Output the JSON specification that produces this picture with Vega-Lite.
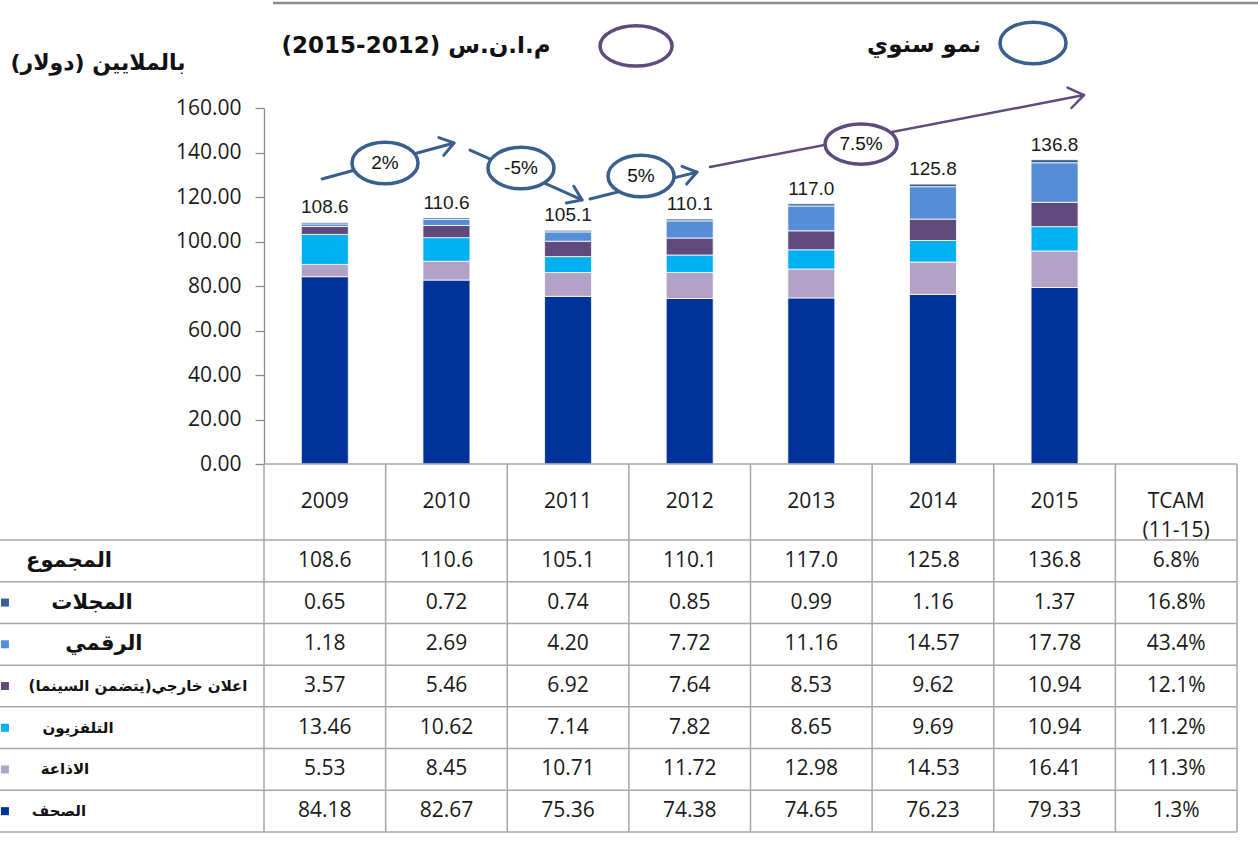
{
  "$schema": "https://vega.github.io/schema/vega-lite/v6.json",
  "width": 973,
  "height": 356,
  "autosize": {"type": "none"},
  "padding": {"left": 264, "top": 108, "right": 21, "bottom": 378},
  "background": "white",
  "config": {"view": {"stroke": null}, "text": {"font": "Open Sans"}},
  "datasets": {
    "bars": [
      {"year": 2009, "s": "الصحف", "k": 1, "v": 84.18},
      {"year": 2010, "s": "الصحف", "k": 1, "v": 82.67},
      {"year": 2011, "s": "الصحف", "k": 1, "v": 75.36},
      {"year": 2012, "s": "الصحف", "k": 1, "v": 74.38},
      {"year": 2013, "s": "الصحف", "k": 1, "v": 74.65},
      {"year": 2014, "s": "الصحف", "k": 1, "v": 76.23},
      {"year": 2015, "s": "الصحف", "k": 1, "v": 79.33},
      {"year": 2009, "s": "الاذاعة", "k": 2, "v": 5.53},
      {"year": 2010, "s": "الاذاعة", "k": 2, "v": 8.45},
      {"year": 2011, "s": "الاذاعة", "k": 2, "v": 10.71},
      {"year": 2012, "s": "الاذاعة", "k": 2, "v": 11.72},
      {"year": 2013, "s": "الاذاعة", "k": 2, "v": 12.98},
      {"year": 2014, "s": "الاذاعة", "k": 2, "v": 14.53},
      {"year": 2015, "s": "الاذاعة", "k": 2, "v": 16.41},
      {"year": 2009, "s": "التلفزيون", "k": 3, "v": 13.46},
      {"year": 2010, "s": "التلفزيون", "k": 3, "v": 10.62},
      {"year": 2011, "s": "التلفزيون", "k": 3, "v": 7.14},
      {"year": 2012, "s": "التلفزيون", "k": 3, "v": 7.82},
      {"year": 2013, "s": "التلفزيون", "k": 3, "v": 8.65},
      {"year": 2014, "s": "التلفزيون", "k": 3, "v": 9.69},
      {"year": 2015, "s": "التلفزيون", "k": 3, "v": 10.94},
      {"year": 2009, "s": "اعلان خارجي(يتضمن السينما)", "k": 4, "v": 3.57},
      {"year": 2010, "s": "اعلان خارجي(يتضمن السينما)", "k": 4, "v": 5.46},
      {"year": 2011, "s": "اعلان خارجي(يتضمن السينما)", "k": 4, "v": 6.92},
      {"year": 2012, "s": "اعلان خارجي(يتضمن السينما)", "k": 4, "v": 7.64},
      {"year": 2013, "s": "اعلان خارجي(يتضمن السينما)", "k": 4, "v": 8.53},
      {"year": 2014, "s": "اعلان خارجي(يتضمن السينما)", "k": 4, "v": 9.62},
      {"year": 2015, "s": "اعلان خارجي(يتضمن السينما)", "k": 4, "v": 10.94},
      {"year": 2009, "s": "الرقمي", "k": 5, "v": 1.18},
      {"year": 2010, "s": "الرقمي", "k": 5, "v": 2.69},
      {"year": 2011, "s": "الرقمي", "k": 5, "v": 4.20},
      {"year": 2012, "s": "الرقمي", "k": 5, "v": 7.72},
      {"year": 2013, "s": "الرقمي", "k": 5, "v": 11.16},
      {"year": 2014, "s": "الرقمي", "k": 5, "v": 14.57},
      {"year": 2015, "s": "الرقمي", "k": 5, "v": 17.78},
      {"year": 2009, "s": "المجلات", "k": 6, "v": 0.65},
      {"year": 2010, "s": "المجلات", "k": 6, "v": 0.72},
      {"year": 2011, "s": "المجلات", "k": 6, "v": 0.74},
      {"year": 2012, "s": "المجلات", "k": 6, "v": 0.85},
      {"year": 2013, "s": "المجلات", "k": 6, "v": 0.99},
      {"year": 2014, "s": "المجلات", "k": 6, "v": 1.16},
      {"year": 2015, "s": "المجلات", "k": 6, "v": 1.37}
    ],
    "rows": [
      {"row": "المجموع", "label": "المجموع", "tcam": 0.068},
      {"row": "المجلات", "label": "المجلات", "tcam": 0.168},
      {"row": "الرقمي", "label": "الرقمي", "tcam": 0.434},
      {"row": "اعلان خارجي(يتضمن السينما)", "label": "\u202bاعلان خارجي(يتضمن السينما)\u202c", "tcam": 0.121},
      {"row": "التلفزيون", "label": "التلفزيون", "tcam": 0.112},
      {"row": "الاذاعة", "label": "الاذاعة", "tcam": 0.113},
      {"row": "الصحف", "label": "الصحف", "tcam": 0.013}
    ],
    "edges": [
      {"x": 2008.5}, {"x": 2009.5}, {"x": 2010.5}, {"x": 2011.5}, {"x": 2012.5},
      {"x": 2013.5}, {"x": 2014.5}, {"x": 2015.5}, {"x": 2016.5}
    ],
    "arrows": [
      {"id": "a1", "kind": "annual", "seq": 1, "x": 2008.977, "y": 128.1},
      {"id": "a1", "kind": "annual", "seq": 2, "x": 2010.062, "y": 144.3},
      {"id": "h1", "kind": "annual", "seq": 1, "x": 2009.938, "y": 146.7},
      {"id": "h1", "kind": "annual", "seq": 2, "x": 2010.062, "y": 144.3},
      {"id": "h1", "kind": "annual", "seq": 3, "x": 2009.978, "y": 138.7},
      {"id": "a2", "kind": "annual", "seq": 1, "x": 2010.194, "y": 141.1},
      {"id": "a2", "kind": "annual", "seq": 2, "x": 2011.115, "y": 118.7},
      {"id": "h2", "kind": "annual", "seq": 1, "x": 2011.047, "y": 124.8},
      {"id": "h2", "kind": "annual", "seq": 2, "x": 2011.115, "y": 118.7},
      {"id": "h2", "kind": "annual", "seq": 3, "x": 2010.986, "y": 117.3},
      {"id": "a3", "kind": "annual", "seq": 1, "x": 2011.180, "y": 119.1},
      {"id": "a3", "kind": "annual", "seq": 2, "x": 2012.060, "y": 131.2},
      {"id": "h3", "kind": "annual", "seq": 1, "x": 2011.937, "y": 133.8},
      {"id": "h3", "kind": "annual", "seq": 2, "x": 2012.060, "y": 131.2},
      {"id": "h3", "kind": "annual", "seq": 3, "x": 2011.975, "y": 125.8},
      {"id": "a4", "kind": "cagr", "seq": 1, "x": 2012.167, "y": 133.5},
      {"id": "a4", "kind": "cagr", "seq": 2, "x": 2015.242, "y": 165.8},
      {"id": "h4", "kind": "cagr", "seq": 1, "x": 2015.107, "y": 169.2},
      {"id": "h4", "kind": "cagr", "seq": 2, "x": 2015.242, "y": 165.8},
      {"id": "h4", "kind": "cagr", "seq": 3, "x": 2015.139, "y": 160.0}
    ],
    "notes": [
      {"t": "2%", "kind": "annual", "x": 2009.495, "y": 135.3},
      {"t": "-5%", "kind": "annual", "x": 2010.613, "y": 133.0},
      {"t": "5%", "kind": "annual", "x": 2011.600, "y": 129.4},
      {"t": "7.5%", "kind": "cagr", "x": 2013.409, "y": 143.8},
      {"t": "", "kind": "annual", "x": 2014.823, "y": 189.2},
      {"t": "", "kind": "cagr", "x": 2011.559, "y": 187.9}
    ]
  },
  "layer": [
    {
      "data": {"name": "bars"},
      "mark": {"type": "bar", "width": 47, "stroke": "white", "strokeWidth": 0.8},
      "encoding": {
        "x": {"field": "year", "type": "quantitative", "axis": null, "scale": {"domain": [2008.5, 2016.5], "nice": false, "zero": false, "padding": 0}},
        "y": {
          "field": "v", "type": "quantitative", "stack": "zero",
          "scale": {"domain": [0, 160], "nice": false, "zero": false},
          "axis": {
            "orient": "left",
            "values": [0, 20, 40, 60, 80, 100, 120, 140, 160], "format": ".2f", "title": null, "grid": false,
            "tickSize": 9, "labelPadding": 14, "labelFont": "Open Sans", "labelFontSize": 21,
            "labelColor": "#1a1a1a", "domainColor": "#8c8c8c", "tickColor": "#8c8c8c",
            "domainWidth": 1.3, "tickWidth": 1.3, "labelFlush": false, "labelOverlap": false
          }
        },
        "color": {
          "field": "s", "type": "nominal", "legend": null,
          "scale": {
            "domain": ["الصحف", "الاذاعة", "التلفزيون", "اعلان خارجي(يتضمن السينما)", "الرقمي", "المجلات"],
            "range": ["#003399", "#b3a2c7", "#00b0f0", "#604a7b", "#558ed5", "#376092"]
          }
        },
        "order": {"field": "k", "type": "quantitative"}
      }
    },
    {
      "data": {"name": "edges"},
      "mark": {"type": "rule", "color": "#a6a6a6", "strokeWidth": 1.5},
      "encoding": {
        "x": {"field": "x", "type": "quantitative", "axis": null},
        "y": {"datum": 0, "type": "quantitative", "axis": null, "scale": {"domain": [0, 160], "nice": false, "zero": false}},
        "y2": {"datum": -165.4}
      }
    },
    {
      "data": {"values": [{}]},
      "mark": {"type": "rule", "color": "#a6a6a6", "strokeWidth": 1.5},
      "encoding": {
        "x": {"datum": 2008.5, "type": "quantitative", "axis": null},
        "x2": {"datum": 2016.5},
        "y": {"datum": 0, "type": "quantitative", "axis": null, "scale": {"domain": [0, 160], "nice": false, "zero": false}}
      }
    },
    {
      "data": {"name": "bars"},
      "transform": [{"aggregate": [{"op": "sum", "field": "v", "as": "total"}], "groupby": ["year"]}],
      "mark": {"type": "text", "font": "Liberation Sans", "fontSize": 19, "color": "#1a1a1a", "baseline": "bottom", "dy": -5},
      "encoding": {
        "x": {"field": "year", "type": "quantitative", "axis": null},
        "y": {"field": "total", "type": "quantitative", "axis": null, "scale": {"domain": [0, 160], "nice": false, "zero": false}},
        "text": {"field": "total", "type": "quantitative", "format": ".1f"}
      }
    },
    {
      "data": {"name": "bars"},
      "transform": [{"aggregate": [{"op": "count", "as": "n"}], "groupby": ["year"]}],
      "mark": {"type": "text", "font": "Open Sans", "fontSize": 21, "color": "#1a1a1a"},
      "encoding": {
        "x": {"field": "year", "type": "quantitative", "axis": null},
        "y": {"datum": -17.1, "type": "quantitative", "axis": null, "scale": {"domain": [0, 160], "nice": false, "zero": false}},
        "text": {"field": "year", "type": "nominal"}
      }
    },
    {
      "data": {"values": [{"t": "TCAM\n(11-15)"}]},
      "mark": {"type": "text", "font": "Open Sans", "fontSize": 21, "color": "#1a1a1a", "lineBreak": "\n", "lineHeight": 29},
      "encoding": {
        "x": {"datum": 2016, "type": "quantitative", "axis": null},
        "y": {"datum": -17.1, "type": "quantitative", "axis": null, "scale": {"domain": [0, 160], "nice": false, "zero": false}},
        "text": {"field": "t", "type": "nominal"}
      }
    },
    {
      "data": {"values": [{}]},
      "mark": {"type": "rule", "color": "#8c8c8c", "strokeWidth": 2.5},
      "encoding": {
        "x": {"datum": 2008.574, "type": "quantitative", "axis": null},
        "x2": {"datum": 2016.673},
        "y": {"datum": 207.2, "type": "quantitative", "axis": null, "scale": {"domain": [0, 160], "nice": false, "zero": false}}
      }
    },
    {
      "data": {"values": [{"t": "\u202bبالملايين (دولار)\u202c"}]},
      "mark": {"type": "text", "font": "DejaVu Sans", "fontWeight": "bold", "fontSize": 22, "color": "#111111"},
      "encoding": {
        "x": {"datum": 2007.135, "type": "quantitative", "axis": null},
        "y": {"datum": 180.2, "type": "quantitative", "axis": null, "scale": {"domain": [0, 160], "nice": false, "zero": false}},
        "text": {"field": "t", "type": "nominal"}
      }
    },
    {
      "data": {"values": [{"t": "\u202bم.ا.ن.س (2012-2015)\u202c"}]},
      "mark": {"type": "text", "font": "DejaVu Sans", "fontWeight": "bold", "fontSize": 23, "color": "#111111"},
      "encoding": {
        "x": {"datum": 2009.75, "type": "quantitative", "axis": null},
        "y": {"datum": 187.9, "type": "quantitative", "axis": null, "scale": {"domain": [0, 160], "nice": false, "zero": false}},
        "text": {"field": "t", "type": "nominal"}
      }
    },
    {
      "data": {"values": [{"t": "نمو سنوي"}]},
      "mark": {"type": "text", "font": "DejaVu Sans", "fontWeight": "bold", "fontSize": 23, "color": "#111111"},
      "encoding": {
        "x": {"datum": 2013.927, "type": "quantitative", "axis": null},
        "y": {"datum": 188.3, "type": "quantitative", "axis": null, "scale": {"domain": [0, 160], "nice": false, "zero": false}},
        "text": {"field": "t", "type": "nominal"}
      }
    },
    {
      "data": {"name": "arrows"},
      "transform": [{"filter": {"field": "kind", "equal": "annual"}}],
      "mark": {"type": "line", "color": "#395f8c", "strokeWidth": 3, "strokeCap": "round", "strokeJoin": "round"},
      "encoding": {
        "x": {"field": "x", "type": "quantitative", "axis": null},
        "y": {"field": "y", "type": "quantitative", "axis": null, "scale": {"domain": [0, 160], "nice": false, "zero": false}},
        "detail": {"field": "id", "type": "nominal"},
        "order": {"field": "seq", "type": "quantitative"}
      }
    },
    {
      "data": {"name": "arrows"},
      "transform": [{"filter": {"field": "kind", "equal": "cagr"}}],
      "mark": {"type": "line", "color": "#5f4a7d", "strokeWidth": 2.5, "strokeCap": "round", "strokeJoin": "round"},
      "encoding": {
        "x": {"field": "x", "type": "quantitative", "axis": null},
        "y": {"field": "y", "type": "quantitative", "axis": null, "scale": {"domain": [0, 160], "nice": false, "zero": false}},
        "detail": {"field": "id", "type": "nominal"},
        "order": {"field": "seq", "type": "quantitative"}
      }
    },
    {
      "data": {"name": "notes"},
      "transform": [{"filter": {"field": "kind", "equal": "annual"}}],
      "mark": {
        "type": "point", "shape": "M-1,0C-1,-0.348,-0.552,-0.63,0,-0.63C0.552,-0.63,1,-0.348,1,0C1,0.348,0.552,0.63,0,0.63C-0.552,0.63,-1,0.348,-1,0Z",
        "size": 4356, "fill": "white", "fillOpacity": 1, "stroke": "#395f8c", "strokeWidth": 3.5, "opacity": 1
      },
      "encoding": {
        "x": {"field": "x", "type": "quantitative", "axis": null},
        "y": {"field": "y", "type": "quantitative", "axis": null, "scale": {"domain": [0, 160], "nice": false, "zero": false}}
      }
    },
    {
      "data": {"name": "notes"},
      "transform": [{"filter": {"field": "kind", "equal": "cagr"}}],
      "mark": {
        "type": "point", "shape": "M-1,0C-1,-0.309,-0.552,-0.56,0,-0.56C0.552,-0.56,1,-0.309,1,0C1,0.309,0.552,0.56,0,0.56C-0.552,0.56,-1,0.309,-1,0Z",
        "size": 5184, "fill": "white", "fillOpacity": 1, "stroke": "#5f4a7d", "strokeWidth": 3.5, "opacity": 1
      },
      "encoding": {
        "x": {"field": "x", "type": "quantitative", "axis": null},
        "y": {"field": "y", "type": "quantitative", "axis": null, "scale": {"domain": [0, 160], "nice": false, "zero": false}}
      }
    },
    {
      "data": {"name": "notes"},
      "mark": {"type": "text", "font": "Liberation Sans", "fontSize": 19, "color": "#111111"},
      "encoding": {
        "x": {"field": "x", "type": "quantitative", "axis": null},
        "y": {"field": "y", "type": "quantitative", "axis": null, "scale": {"domain": [0, 160], "nice": false, "zero": false}},
        "text": {"field": "t", "type": "nominal"}
      }
    },
    {
      "layer": [
        {
          "data": {"name": "rows"},
          "mark": {"type": "rule", "color": "#a6a6a6", "strokeWidth": 1.5},
          "encoding": {
            "x": {"datum": 2006.329, "type": "quantitative", "axis": null},
            "x2": {"datum": 2016.5},
            "y": {
              "field": "row", "type": "nominal", "bandPosition": 0, "axis": null,
              "scale": {"type": "band", "domain": ["المجموع", "المجلات", "الرقمي", "اعلان خارجي(يتضمن السينما)", "التلفزيون", "الاذاعة", "الصحف"], "range": [432, 724], "paddingInner": 0, "paddingOuter": 0}
            }
          }
        },
        {
          "data": {"name": "rows"},
          "transform": [{"filter": {"field": "row", "equal": "الصحف"}}],
          "mark": {"type": "rule", "color": "#a6a6a6", "strokeWidth": 1.5},
          "encoding": {
            "x": {"datum": 2006.329, "type": "quantitative", "axis": null},
            "x2": {"datum": 2016.5},
            "y": {"field": "row", "type": "nominal", "bandPosition": 1, "axis": null}
          }
        },
        {
          "data": {"name": "rows"},
          "transform": [{"filter": {"not": {"field": "row", "equal": "المجموع"}}}],
          "mark": {"type": "point", "shape": "square", "size": 64, "filled": true, "opacity": 1},
          "encoding": {
            "x": {"datum": 2006.37, "type": "quantitative", "axis": null},
            "y": {"field": "row", "type": "nominal", "axis": null},
            "color": {"field": "row", "type": "nominal", "legend": null}
          }
        },
        {
          "data": {"name": "bars"},
          "mark": {"type": "text", "font": "Open Sans", "fontSize": 21, "color": "#1a1a1a"},
          "encoding": {
            "x": {"field": "year", "type": "quantitative", "axis": null},
            "y": {"field": "s", "type": "nominal", "axis": null},
            "text": {"field": "v", "type": "quantitative", "format": ".2f"}
          }
        },
        {
          "data": {"name": "bars"},
          "transform": [{"aggregate": [{"op": "sum", "field": "v", "as": "total"}], "groupby": ["year"]}],
          "mark": {"type": "text", "font": "Open Sans", "fontSize": 21, "color": "#1a1a1a"},
          "encoding": {
            "x": {"field": "year", "type": "quantitative", "axis": null},
            "y": {"datum": "المجموع", "type": "nominal", "axis": null},
            "text": {"field": "total", "type": "quantitative", "format": ".1f"}
          }
        },
        {
          "data": {"name": "rows"},
          "mark": {"type": "text", "font": "Open Sans", "fontSize": 21, "color": "#1a1a1a"},
          "encoding": {
            "x": {"datum": 2016, "type": "quantitative", "axis": null},
            "y": {"field": "row", "type": "nominal", "axis": null},
            "text": {"field": "tcam", "type": "quantitative", "format": ".1%"}
          }
        },
        {
          "data": {"name": "rows"},
          "transform": [{"filter": {"field": "row", "equal": "المجموع"}}],
          "mark": {"type": "text", "font": "DejaVu Sans", "fontWeight": "bold", "fontSize": 21, "color": "#111111"},
          "encoding": {
            "x": {"datum": 2006.897, "type": "quantitative", "axis": null},
            "y": {"field": "row", "type": "nominal", "axis": null},
            "text": {"field": "label", "type": "nominal"}
          }
        },
        {
          "data": {"name": "rows"},
          "transform": [{"filter": {"field": "row", "equal": "المجلات"}}],
          "mark": {"type": "text", "font": "DejaVu Sans", "fontWeight": "bold", "fontSize": 21, "color": "#111111"},
          "encoding": {
            "x": {"datum": 2007.086, "type": "quantitative", "axis": null},
            "y": {"field": "row", "type": "nominal", "axis": null},
            "text": {"field": "label", "type": "nominal"}
          }
        },
        {
          "data": {"name": "rows"},
          "transform": [{"filter": {"field": "row", "equal": "الرقمي"}}],
          "mark": {"type": "text", "font": "DejaVu Sans", "fontWeight": "bold", "fontSize": 21, "color": "#111111"},
          "encoding": {
            "x": {"datum": 2007.184, "type": "quantitative", "axis": null},
            "y": {"field": "row", "type": "nominal", "axis": null},
            "text": {"field": "label", "type": "nominal"}
          }
        },
        {
          "data": {"name": "rows"},
          "transform": [{"filter": {"field": "row", "equal": "اعلان خارجي(يتضمن السينما)"}}],
          "mark": {"type": "text", "font": "DejaVu Sans", "fontWeight": "bold", "fontSize": 15, "color": "#111111"},
          "encoding": {
            "x": {"datum": 2007.464, "type": "quantitative", "axis": null},
            "y": {"field": "row", "type": "nominal", "axis": null},
            "text": {"field": "label", "type": "nominal"}
          }
        },
        {
          "data": {"name": "rows"},
          "transform": [{"filter": {"field": "row", "equal": "التلفزيون"}}],
          "mark": {"type": "text", "font": "DejaVu Sans", "fontWeight": "bold", "fontSize": 15, "color": "#111111"},
          "encoding": {
            "x": {"datum": 2006.971, "type": "quantitative", "axis": null},
            "y": {"field": "row", "type": "nominal", "axis": null},
            "text": {"field": "label", "type": "nominal"}
          }
        },
        {
          "data": {"name": "rows"},
          "transform": [{"filter": {"field": "row", "equal": "الاذاعة"}}],
          "mark": {"type": "text", "font": "DejaVu Sans", "fontWeight": "bold", "fontSize": 15, "color": "#111111"},
          "encoding": {
            "x": {"datum": 2006.864, "type": "quantitative", "axis": null},
            "y": {"field": "row", "type": "nominal", "axis": null},
            "text": {"field": "label", "type": "nominal"}
          }
        },
        {
          "data": {"name": "rows"},
          "transform": [{"filter": {"field": "row", "equal": "الصحف"}}],
          "mark": {"type": "text", "font": "DejaVu Sans", "fontWeight": "bold", "fontSize": 15, "color": "#111111"},
          "encoding": {
            "x": {"datum": 2006.814, "type": "quantitative", "axis": null},
            "y": {"field": "row", "type": "nominal", "axis": null},
            "text": {"field": "label", "type": "nominal"}
          }
        }
      ]
    }
  ],
  "resolve": {"scale": {"y": "independent"}, "axis": {"y": "independent"}}
}
